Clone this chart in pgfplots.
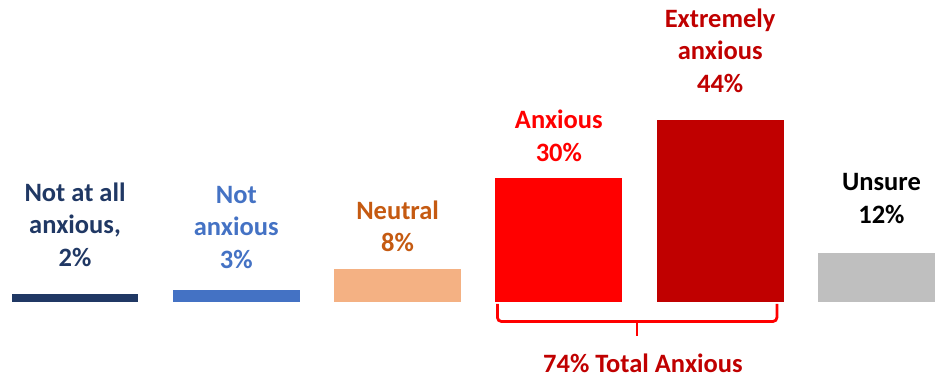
\documentclass[border=0pt]{standalone}
\usepackage{pgfplots}
\pgfplotsset{compat=1.18}
\usepackage{fontspec}
\setmainfont{Carlito}

\definecolor{navy}{HTML}{203864}
\definecolor{cblue}{HTML}{4472C4}
\definecolor{peach}{HTML}{F4B183}
\definecolor{burnt}{HTML}{C55A11}
\definecolor{bright}{HTML}{FF0000}
\definecolor{deepred}{HTML}{C00000}
\definecolor{cgray}{HTML}{BFBFBF}

\begin{document}
\begin{tikzpicture}
\begin{axis}[
  at={(0,0)}, anchor=south west,
  scale only axis, width=935pt, height=381pt,
  hide axis,
  xmin=-0.465, xmax=5.332,
  ymin=-18.92, ymax=72.89,
  ybar, bar shift=0pt, bar width=0.787,
  /pgf/number format/assume math mode=true,
  every node near coord/.append style={
    font=\fontsize{26.5}{32.5}\selectfont\bfseries,
    align=center, anchor=south, inner sep=0pt},
]
\addplot[fill=navy, draw=none,
  nodes near coords={Not at all\\anxious,\\\pgfmathprintnumber{\pgfplotspointmeta}\%},
  every node near coord/.append style={text=navy, yshift=27.5pt}]
  coordinates {(0,2)};
\addplot[fill=cblue, draw=none,
  nodes near coords={Not\\anxious\\\pgfmathprintnumber{\pgfplotspointmeta}\%},
  every node near coord/.append style={text=cblue, yshift=21.5pt}]
  coordinates {(1,3)};
\addplot[fill=peach, draw=none,
  nodes near coords={Neutral\\\pgfmathprintnumber{\pgfplotspointmeta}\%},
  every node near coord/.append style={text=burnt, yshift=17pt}]
  coordinates {(2,8)};
\addplot[fill=bright, draw=none,
  nodes near coords={Anxious\\\pgfmathprintnumber{\pgfplotspointmeta}\%},
  every node near coord/.append style={text=bright, yshift=16.5pt}]
  coordinates {(3,30)};
\addplot[fill=deepred, draw=none,
  nodes near coords={Extremely\\anxious\\\pgfmathprintnumber{\pgfplotspointmeta}\%},
  every node near coord/.append style={text=deepred, yshift=27pt}]
  coordinates {(4,44)};
\addplot[fill=cgray, draw=none,
  nodes near coords={Unsure\\\pgfmathprintnumber{\pgfplotspointmeta}\%},
  every node near coord/.append style={text=black, yshift=29pt}]
  coordinates {(5,12)};

% brace grouping the two anxious bars
\draw[bright, line width=2.8pt, rounded corners=4pt]
  (axis cs:2.619,-0.36) -- (axis cs:2.619,-4.58) -- (axis cs:4.352,-4.58) -- (axis cs:4.352,-0.36);
\draw[bright, line width=2.8pt] (axis cs:3.484,-4.58) -- (axis cs:3.484,-8.07);
\node[anchor=base, inner sep=0pt, text=deepred,
      font=\fontsize{26.5}{32.5}\selectfont\bfseries]
  at (axis cs:3.521,-16.99) {74\% Total Anxious};
\end{axis}
\pgfresetboundingbox
\useasboundingbox (0,0) rectangle (935pt,381pt);
\end{tikzpicture}
\end{document}
